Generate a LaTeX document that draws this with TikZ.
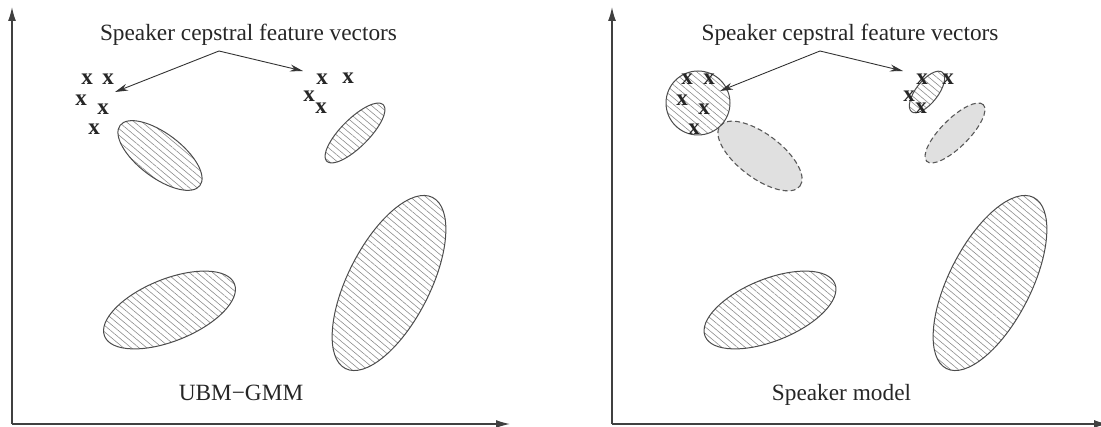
\documentclass[tikz,border=0pt]{standalone}
\usepackage{fontspec}
\setmainfont{Liberation Serif}
\usetikzlibrary{arrows.meta,patterns.meta}
\begin{document}
\begin{tikzpicture}[x=1pt,y=1pt,
  axis/.style={line width=1.4pt,draw=black!75,-{Latex[length=14pt,width=8pt]}},
  hatch/.style={draw=black!70,line width=1pt,pattern={Lines[angle=-40,distance=5pt,line width=0.6pt]},pattern color=black!45},
  ghost/.style={draw=black!65,line width=1.1pt,dash pattern=on 5pt off 3pt,fill=black!12},
  lbl/.style={font=\fontsize{23.3}{28}\selectfont,text=black!85,inner sep=0pt},
  xm/.style={font=\fontsize{23}{27}\selectfont\bfseries,text=black!85,inner sep=0pt},
  pointer/.style={line width=0.9pt,draw=black!80,-{Stealth[length=13pt,width=7pt]}}]
\useasboundingbox (0,0) rectangle (1101,-427);

% ---------- left panel ----------
\coordinate (o1) at (12,-424);
\coordinate (y1) at (12,-7);
\coordinate (x1) at (510,-424);
\draw[axis] (o1) -- (y1);
\draw[axis] (o1) -- (x1);

\draw[hatch] (160,-155.5) ellipse [x radius=50, y radius=22, rotate=-37];
\draw[hatch] (355,-133) ellipse [x radius=40, y radius=14, rotate=45];
\draw[hatch] (169.5,-310) ellipse [x radius=70, y radius=31, rotate=22];
\draw[hatch] (389,-283) ellipse [x radius=96, y radius=41, rotate=63];

\node[lbl,anchor=base] (t1) at (248.5,-41) {Speaker cepstral feature vectors};
\coordinate (v1) at (219,-51);
\coordinate (l1) at (115,-92);
\coordinate (r1) at (303,-71);
\draw[pointer] (v1) -- (l1);
\draw[pointer] (v1) -- (r1);

\node[xm] (a1) at (87,-79) {x};
\node[xm] (a2) at (108,-79) {x};
\node[xm] (a3) at (81,-100) {x};
\node[xm] (a4) at (103,-109) {x};
\node[xm] (a5) at (94,-129) {x};
\node[xm] (b1) at (322,-79) {x};
\node[xm] (b2) at (348,-78) {x};
\node[xm] (b3) at (309,-96) {x};
\node[xm] (b4) at (321,-108) {x};

\node[lbl,anchor=base] (m1) at (241,-401) {UBM−GMM};

% ---------- right panel ----------
\coordinate (o2) at (612,-424);
\coordinate (y2) at (612,-7);
\coordinate (x2) at (1108,-424);
\draw[axis] (o2) -- (y2);
\draw[axis] (o2) -- (x2);

\draw[ghost] (760,-156) ellipse [x radius=50, y radius=22, rotate=-37];
\draw[ghost] (955,-133) ellipse [x radius=40, y radius=14, rotate=45];
\draw[hatch] (698,-103) circle [radius=32];
\draw[hatch] (927,-92) ellipse [x radius=25, y radius=11, rotate=52];
\draw[hatch] (770,-310) ellipse [x radius=70, y radius=31, rotate=22];
\draw[hatch] (990,-283) ellipse [x radius=96, y radius=41, rotate=63];

\node[lbl,anchor=base] (t2) at (850,-41) {Speaker cepstral feature vectors};
\coordinate (v2) at (820,-51);
\coordinate (l2) at (720,-91);
\coordinate (r2) at (903,-71);
\draw[pointer] (v2) -- (l2);
\draw[pointer] (v2) -- (r2);

\node[xm] (c1) at (687,-79) {x};
\node[xm] (c2) at (709,-79) {x};
\node[xm] (c3) at (682,-100) {x};
\node[xm] (c4) at (704,-109) {x};
\node[xm] (c5) at (694,-129) {x};
\node[xm] (d1) at (922,-79) {x};
\node[xm] (d2) at (948,-79) {x};
\node[xm] (d3) at (909,-96) {x};
\node[xm] (d4) at (921,-108) {x};

\node[lbl,anchor=base] (m2) at (841.5,-401) {Speaker model};
\end{tikzpicture}
\end{document}
